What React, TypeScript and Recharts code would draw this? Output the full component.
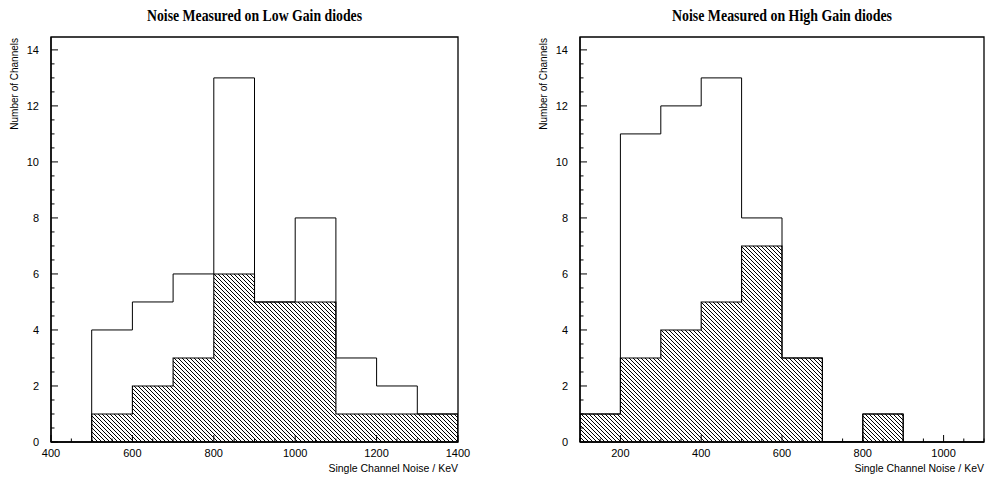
import React from 'react';
import { ComposedChart, Line, Area, XAxis, YAxis, ReferenceArea } from 'recharts';

// ---- Data ----
const LOW_EDGES = [500, 600, 700, 800, 900, 1000, 1100, 1200, 1300, 1400];
const LOW_TOTAL = [4, 5, 6, 13, 5, 8, 3, 2, 1];
const LOW_HATCHED = [1, 2, 3, 6, 5, 5, 1, 1, 1];

const HIGH_EDGES = [100, 200, 300, 400, 500, 600, 700, 800, 900];
const HIGH_TOTAL = [1, 11, 12, 13, 8, 3, 0, 1];
const HIGH_HATCHED = [1, 3, 4, 5, 7, 3, 0, 1];

const LOW_X_LABELS = [400, 600, 800, 1000, 1200, 1400];
const HIGH_X_LABELS = [200, 400, 600, 800, 1000];
const Y_LABELS = [0, 2, 4, 6, 8, 10, 12, 14];

const TITLE_LOW = 'Noise Measured on Low Gain diodes';
const TITLE_HIGH = 'Noise Measured on High Gain diodes';
const X_TITLE = 'Single Channel Noise / KeV';
const Y_TITLE = 'Number of Channels';

const Y_MAX = 14.46;
const SANS = '"Liberation Sans", Arial, Helvetica, sans-serif';

function steps(edges: number[], counts: number[]) {
  const pts: { x: number; y: number }[] = [{ x: edges[0], y: 0 }];
  counts.forEach((c, i) => pts.push({ x: edges[i], y: c }));
  const last = edges[edges.length - 1];
  pts.push({ x: last, y: counts[counts.length - 1] });
  pts.push({ x: last, y: 0 });
  return pts;
}

function minorTicks(min: number, max: number, step: number) {
  const out: number[] = [];
  for (let v = min; v <= max + 1e-9; v += step) out.push(Math.round(v * 100) / 100);
  return out;
}

const makeXTick = (labels: number[]) => (props: any) => {
  const { x, y, payload } = props;
  const v = payload.value;
  const major = labels.includes(v);
  return (
    <g>
      <line x1={x} x2={x} y1={y} y2={y - (major ? 7 : 3.5)} stroke="#000" strokeWidth={1} />
      {major && (
        <text x={x} y={y + 15} textAnchor="middle" fontSize={11} fontFamily={SANS} fill="#000">
          {v}
        </text>
      )}
    </g>
  );
};

const YTick = (props: any) => {
  const { x, y, payload } = props;
  const v = payload.value;
  const major = Y_LABELS.includes(v);
  return (
    <g>
      <line x1={x} x2={x + (major ? 7 : 3.5)} y1={y} y2={y} stroke="#000" strokeWidth={1} />
      {major && (
        <text x={x - 12} y={y + 4} textAnchor="end" fontSize={11} fontFamily={SANS} fill="#000">
          {v}
        </text>
      )}
    </g>
  );
};

function Panel(props: {
  id: string;
  edges: number[];
  total: number[];
  hatched: number[];
  domain: [number, number];
  labels: number[];
  margin: { top: number; left: number; right: number; bottom: number };
}) {
  const { id, edges, total, hatched, domain, labels, margin } = props;
  const totalPts = steps(edges, total);
  const hatchPts = steps(edges, hatched);
  const xTicks = minorTicks(domain[0], domain[1], 50);
  const yTicks = minorTicks(0, 14, 0.5);
  return (
    <ComposedChart width={490} height={479} margin={margin}>
      <defs>
        <pattern id={id} patternUnits="userSpaceOnUse" width={4} height={4}>
          <path
            d="M0,0 L4,4 M-1,3 L1,5 M3,-1 L5,1"
            stroke="#000"
            strokeWidth={1}
            shapeRendering="crispEdges"
          />
        </pattern>
      </defs>
      <XAxis
        type="number"
        dataKey="x"
        domain={domain}
        ticks={xTicks}
        interval={0}
        allowDataOverflow
        height={30}
        tickSize={0}
        tickMargin={0}
        tickLine={false}
        axisLine={{ stroke: '#000', strokeWidth: 1.3 }}
        tick={makeXTick(labels)}
        label={(p: any) => {
          const vb = p.viewBox || {};
          return (
            <text
              x={vb.x + vb.width}
              y={vb.y + 30}
              textAnchor="end"
              fontSize={10.5}
              fontFamily={SANS}
              fill="#000"
            >
              {X_TITLE}
            </text>
          );
        }}
      />
      <YAxis
        type="number"
        dataKey="y"
        domain={[0, Y_MAX]}
        ticks={yTicks}
        interval={0}
        allowDataOverflow
        width={40}
        tickSize={0}
        tickMargin={0}
        tickLine={false}
        axisLine={{ stroke: '#000', strokeWidth: 1.3 }}
        tick={YTick}
        label={(p: any) => {
          const vb = p.viewBox || {};
          const lx = vb.x + 7;
          const ly = vb.y + 1;
          return (
            <text
              x={lx}
              y={ly}
              transform={`rotate(-90 ${lx} ${ly})`}
              textAnchor="end"
              fontSize={10}
              fontFamily={SANS}
              fill="#000"
            >
              {Y_TITLE}
            </text>
          );
        }}
      />
      <Line
        data={totalPts}
        dataKey="y"
        type="stepAfter"
        stroke="#000"
        strokeWidth={1}
        dot={false}
        activeDot={false}
        isAnimationActive={false}
      />
      <Area
        data={hatchPts}
        dataKey="y"
        type="stepAfter"
        stroke="#000"
        strokeWidth={1.1}
        fill={`url(#${id})`}
        fillOpacity={1}
        dot={false}
        activeDot={false}
        isAnimationActive={false}
      />
      <ReferenceArea
        x1={domain[0]}
        x2={domain[1]}
        y1={0}
        y2={Y_MAX}
        fill="none"
        stroke="#000"
        strokeWidth={1.3}
        ifOverflow="visible"
      />
    </ComposedChart>
  );
}

export default function App() {
  return (
    <div style={{ position: 'absolute', left: 0, top: 0, width: 989, height: 479, background: '#fff' }}>
      <svg width={989} height={30} style={{ position: 'absolute', left: 0, top: 0 }}>
        <text
          x={254.5}
          y={21}
          textAnchor="middle"
          fontSize={16}
          fontWeight="bold"
          fontFamily='"Liberation Serif", "Times New Roman", serif'
          textLength={215}
          lengthAdjust="spacingAndGlyphs"
          fill="#000"
        >
          {TITLE_LOW}
        </text>
        <text
          x={782}
          y={21}
          textAnchor="middle"
          fontSize={16}
          fontWeight="bold"
          fontFamily='"Liberation Serif", "Times New Roman", serif'
          textLength={220}
          lengthAdjust="spacingAndGlyphs"
          fill="#000"
        >
          {TITLE_HIGH}
        </text>
      </svg>
      <div style={{ position: 'absolute', left: 0, top: 0 }}>
        <Panel
          id="hatchLow"
          edges={LOW_EDGES}
          total={LOW_TOTAL}
          hatched={LOW_HATCHED}
          domain={[400, 1400]}
          labels={LOW_X_LABELS}
          margin={{ top: 37, left: 11, right: 32, bottom: 7 }}
        />
      </div>
      <div style={{ position: 'absolute', left: 499, top: 0 }}>
        <Panel
          id="hatchHigh"
          edges={HIGH_EDGES}
          total={HIGH_TOTAL}
          hatched={HIGH_HATCHED}
          domain={[100, 1100]}
          labels={HIGH_X_LABELS}
          margin={{ top: 37, left: 41, right: 5, bottom: 7 }}
        />
      </div>
    </div>
  );
}
